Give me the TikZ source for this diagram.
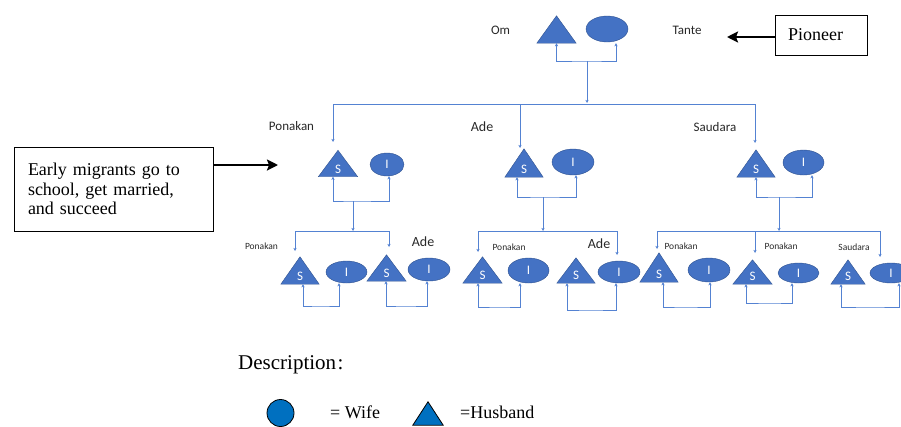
\documentclass[tikz,border=0pt]{standalone}
\usepackage{fontspec}
\setmainfont{Liberation Serif}
\newfontfamily\labfont{Carlito}
\usetikzlibrary{shapes.geometric,arrows.meta}
\definecolor{shapeblue}{RGB}{68,114,196}
\definecolor{edgeblue}{RGB}{47,82,143}
\definecolor{linkblue}{RGB}{84,130,210}
\definecolor{legblue}{RGB}{0,112,192}
\definecolor{labgray}{RGB}{40,40,40}
\tikzset{
  conn/.style={draw=linkblue,line width=0.6pt},
  tipend/.style={arrows={-Stealth[length=3.2pt,width=3.2pt]}},
  tipboth/.style={arrows={Stealth[length=3.2pt,width=3.2pt]-Stealth[length=3.2pt,width=3.2pt]}},
  tribox/.style={inner sep=0pt,draw=none},
  trifill/.style={fill=shapeblue,draw=edgeblue,line width=0.4pt},
  ell/.style={ellipse,inner sep=0pt,fill=shapeblue,draw=edgeblue,line width=0.4pt,text=white,font=\labfont\fontsize{13}{13}\selectfont},
  stxt/.style={inner sep=0pt,text=white,font=\labfont\fontsize{13}{13}\selectfont},
  lab/.style={inner sep=0pt,text=labgray,font=\labfont\fontsize{13}{13}\selectfont},
  labbig/.style={inner sep=0pt,text=labgray,font=\labfont\fontsize{14}{14}\selectfont},
  labsmall/.style={inner sep=0pt,text=labgray,font=\labfont\fontsize{9.5}{9.5}\selectfont},
  notebox/.style={draw=black,line width=0.9pt,align=left,inner ysep=0pt},
  bigarrow/.style={line width=2.6pt,arrows={-Stealth[length=11pt,width=11pt,inset=2pt]}},
  legtext/.style={inner sep=0pt,anchor=base west,font=\fontsize{18}{18}\selectfont}
}
\newcommand\husbnode[5]{%
  \node[tribox,minimum width=#4pt,minimum height=#5pt] (#1) at (#2,#3) {};
  \fill[trifill] (#1.south west) -- (#1.north) -- (#1.south east) -- cycle;
  \node[stxt] (#1s) at ([yshift=7.5pt]#1.south) {S};}
\newcommand\wifenode[5]{%
  \node[ell,minimum width=#4pt,minimum height=#5pt] (#1) at (#2,#3) {I};}
\begin{document}
\begin{tikzpicture}[x=1pt,y=-1pt]
\useasboundingbox (0,0) rectangle (901,426);

% ---------- pioneers ----------
\node[tribox,minimum width=39pt,minimum height=27pt] (t0) at (556.5,29.5) {};
\fill[trifill] (t0.south west) -- (t0.north) -- (t0.south east) -- cycle;
\node[ell,minimum width=42pt,minimum height=26pt] (e0) at (607,29) {};
\node[lab] (om) at (500.5,30) {Om};
\node[lab] (tante) at (687,30) {Tante};
\coordinate (k0) at (587,61);
\draw[conn,tipboth] (t0.south) |- (k0) -| ([xshift=9pt,yshift=-1pt]e0.south);
\coordinate (d0) at (587,103);
\draw[conn,tipend] (k0) -- (d0);
\coordinate (barL) at (333,104);
\coordinate (barM) at (520,104);
\coordinate (barR) at (755,104);
\draw[conn] (barL) -- (barR);

\node[notebox,text width=66pt,inner xsep=13pt,minimum height=40pt,font=\fontsize{18}{18}\selectfont] (pio) at (821,35) {Pioneer};
\coordinate (pioTip) at (727,37);
\draw[bigarrow] (pioTip -| pio.west) -- (pioTip);

% ---------- second generation ----------
\node[lab] (l2p) at (291.5,126) {Ponakan};
\node[labbig] (l2a) at (482,127) {Ade};
\node[lab] (l2s) at (715,127) {Saudara};
\draw[conn,tipend] (barL) -- ++(0,38);
\draw[conn,tipend] (barM) -- ++(0,44);
\draw[conn,tipend] (barR) -- ++(0,39);

\husbnode{tP}{338}{163.5}{39}{26}
\wifenode{eP}{387}{164.5}{34}{23}
\husbnode{tA}{524}{163}{38}{28}
\wifenode{eA}{573}{162}{42}{26}
\husbnode{tS}{756}{163.5}{38}{27}
\wifenode{eS}{803.5}{162.5}{41}{25}

\coordinate (kP) at (353,201);
\draw[conn,tipboth] ([xshift=-5pt]tP.south) |- (kP) -| ([xshift=2pt]eP.south);
\coordinate (kA) at (543,197);
\draw[conn,tipboth] ([xshift=-7pt]tA.south) |- (kA) -| ([xshift=3pt]eA.south);
\coordinate (kS) at (779,197);
\draw[conn,tipboth] (tS.south) |- (kS) -| ([xshift=8.5pt]eS.south);

\node[notebox,text width=171pt,inner xsep=14pt,minimum height=84pt,font=\fontsize{18}{19.5}\selectfont] (early) at (113.5,189) {Early migrants go to\\school, get married,\\and succeed};
\coordinate (earlyTip) at (278,165);
\draw[bigarrow] (earlyTip -| early.east) -- (earlyTip);

% family bars
\coordinate (pbL) at (295,231);
\coordinate (pbR) at (389,231);
\coordinate (abL) at (478,231);
\coordinate (abR) at (617,231);
\coordinate (sbL) at (657,231);
\coordinate (sbM) at (755,231);
\coordinate (sbR) at (880,231);
\draw[conn,tipend] (kP) -- (kP |- pbL);
\draw[conn,tipend] (kA) -- (kA |- abL);
\draw[conn,tipend] (kS) -- (kS |- sbL);
\draw[conn] (pbL) -- (pbR);
\draw[conn] (abL) -- (abR);
\draw[conn] (sbL) -- (sbR);
\draw[conn,tipend] (pbL) -- ++(0,20);
\draw[conn,tipend] (pbR) -- ++(0,16);
\draw[conn,tipend] (abL) -- ++(0,21);
\draw[conn,tipend] (abR) -- ++(0,24);
\draw[conn,tipend] (sbL) -- ++(0,18);
\draw[conn,tipend] (sbM) -- ++(0,22);
\draw[conn,tipend] (sbR) -- ++(0,26);

% ---------- third generation ----------
\node[labsmall] (l3p1) at (261.5,246) {Ponakan};
\node[labbig] (l3a1) at (423,242) {Ade};
\node[labsmall] (l3p2) at (509,247) {Ponakan};
\node[labbig] (l3a2) at (599,244) {Ade};
\node[labsmall] (l3p3) at (681,246) {Ponakan};
\node[labsmall] (l3p4) at (781,246) {Ponakan};
\node[labsmall] (l3s) at (854,247) {Saudara};

\husbnode{t1}{300}{270.5}{38}{27}
\wifenode{e1}{346.5}{272}{41}{22}
\husbnode{t2}{386.5}{268}{39}{26}
\wifenode{e2}{429}{269.5}{42}{23}
\husbnode{t3}{482.5}{270}{39}{26}
\wifenode{e3}{528.5}{270.5}{41}{25}
\husbnode{t4}{576}{270.5}{38}{25}
\wifenode{e4}{619}{272}{42}{22}
\husbnode{t5}{659}{267.5}{38}{29}
\wifenode{e5}{709}{270}{42}{24}
\husbnode{t6}{752.5}{272}{39}{24}
\wifenode{e6}{798.5}{273}{41}{20}
\husbnode{t7}{848}{272}{34}{24}
\wifenode{e7}{891}{273}{42}{20}

\coordinate (k1) at (320,306);
\draw[conn,tipboth] ([xshift=3pt]t1.south) |- (k1) -| ([xshift=-7.5pt]e1.south);
\coordinate (k2) at (405,306);
\draw[conn,tipboth] ([xshift=-0.5pt]t2.south) |- (k2) -| ([xshift=-2pt]e2.south);
\coordinate (k3) at (500,307);
\draw[conn,tipboth] ([xshift=-4.5pt]t3.south) |- (k3) -| ([xshift=-8.5pt]e3.south);
\coordinate (k4) at (590,310);
\draw[conn,tipboth] ([xshift=-9pt]t4.south) |- (k4) -| ([xshift=-3pt]e4.south);
\coordinate (k5) at (685,307);
\draw[conn,tipboth] ([xshift=4pt]t5.south) |- (k5) -| ([xshift=1pt]e5.south);
\coordinate (k6) at (770,303);
\draw[conn,tipboth] ([xshift=-6.5pt]t6.south) |- (k6) -| ([xshift=-6.5pt]e6.south);
\coordinate (k7) at (870,307);
\draw[conn,tipboth] ([xshift=-7pt]t7.south) |- (k7) -| ([xshift=8pt]e7.south);

% ---------- legend ----------
\node[inner sep=0pt,anchor=base west,font=\fontsize{21}{21}\selectfont] (desc) at (238,369) {Description\kern1.5pt:};
\node[circle,minimum size=27pt,inner sep=0pt,fill=legblue,draw=black,line width=0.8pt] (legW) at (280.5,413) {};
\node[legtext] (legWt) at (330,418) {= Wife};
\node[tribox,minimum width=30pt,minimum height=23pt] (legH) at (428,413.5) {};
\filldraw[fill=legblue,draw=black,line width=0.8pt] (legH.south west) -- (legH.north) -- (legH.south east) -- cycle;
\node[legtext] (legHt) at (460,418) {=Husband};
\end{tikzpicture}
\end{document}
